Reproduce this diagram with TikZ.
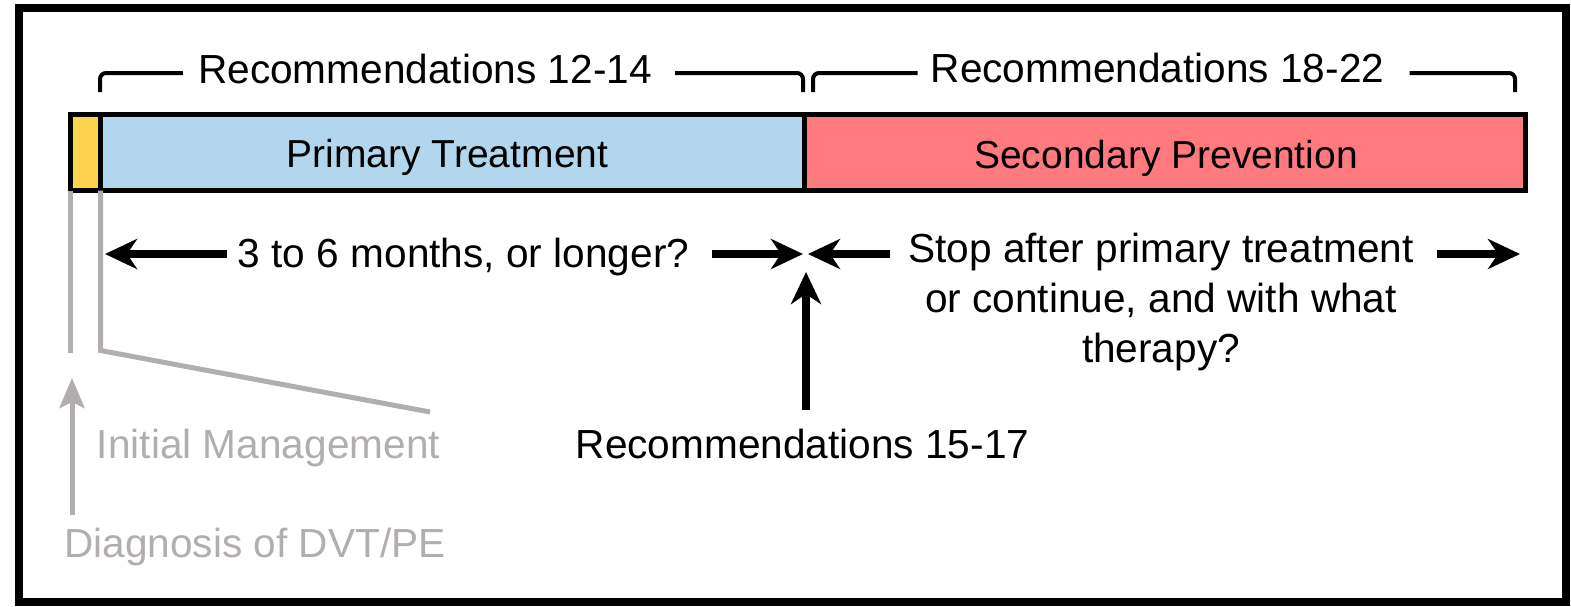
\documentclass[tikz,border=0pt]{standalone}
\usepackage{fontspec}
\setmainfont{Liberation Sans}
\usetikzlibrary{arrows.meta}
\definecolor{yelc}{HTML}{FDD24E}
\definecolor{bluec}{HTML}{B2D6EE}
\definecolor{redc}{HTML}{FF7A7E}
\definecolor{grayc}{HTML}{B3AEAE}
\tikzset{
  bar/.style={draw=black, line width=5pt, minimum height=76pt, inner sep=0pt, outer sep=0pt},
  lbl/.style={inner sep=0pt, anchor=base, font=\fontsize{40.6pt}{50pt}\selectfont},
  glbl/.style={lbl, text=grayc},
  brk/.style={line width=4pt, rounded corners=6pt},
  arr/.style={line width=8pt, -{Stealth[length=32pt,width=30pt,inset=10pt]}},
  gline/.style={draw=grayc, line width=5pt},
  garr/.style={draw=grayc, fill=grayc, line width=5pt, -{Stealth[length=30pt,width=25pt,inset=6pt]}},
}
\begin{document}
\begin{tikzpicture}[x=1pt, y=-1pt]
\useasboundingbox (0,0) rectangle (1571,606);
\draw[line width=8pt] (19,8) rectangle (1566,602);

% bar
\node[bar, fill=yelc, minimum width=30pt] (yel) at (85.5,152.5) {};
\node[bar, fill=bluec, minimum width=704pt] (prim) at (452.5,152.5) {};
\node[bar, fill=redc, minimum width=720.5pt] (sec) at (1164.75,152.5) {};
\node[lbl, font=\fontsize{39pt}{48pt}\selectfont] (primt) at (447.5,167) {Primary Treatment};
\node[lbl, font=\fontsize{39pt}{48pt}\selectfont] (sect) at (1166,168) {Secondary Prevention};

% brackets
\node[lbl] (r1) at (425,83) {Recommendations 12-14};
\node[lbl] (r2) at (1157.5,82) {Recommendations 18-22};
\draw[brk] (100,92) |- ([xshift=-15pt]r1.west |- 0,73);
\draw[brk] ([xshift=23pt]r1.east |- 0,73) -| (803,92);
\draw[brk] (813,92) |- ([xshift=-13pt]r2.west |- 0,73);
\draw[brk] ([xshift=25pt]r2.east |- 0,73) -| (1515,92);

% middle texts and arrows
\node[lbl] (t36) at (463.5,267) {3 to 6 months, or longer?};
\node[lbl, align=center] (stop) at (1161,362) {Stop after primary treatment\\or continue, and with what\\therapy?};
\node[lbl] (r3) at (802.5,458) {Recommendations 15-17};
\coordinate (pL) at (105,254);
\coordinate (pM1) at (803,254);
\coordinate (pM2) at (808,254);
\coordinate (pR) at (1520,254);
\coordinate (pUp) at (806,272);
\draw[arr] (227,254) -- (pL);
\draw[arr] (712,254) -- (pM1);
\draw[arr] (890,254) -- (pM2);
\draw[arr] (1437,254) -- (pR);
\draw[arr] (806,410) -- (pUp);

% gray part
\node[glbl] (init) at (268.5,458) {Initial Management};
\node[glbl] (diag) at (255,557) {Diagnosis of DVT/PE};
\draw[gline] (yel.south west) -- ++(0,162);
\draw[gline] (yel.south east) -- ++(0,160) -- (430,412);
\coordinate (gTip) at (72,378);
\draw[garr] (72,515) -- (gTip);
\end{tikzpicture}
\end{document}
